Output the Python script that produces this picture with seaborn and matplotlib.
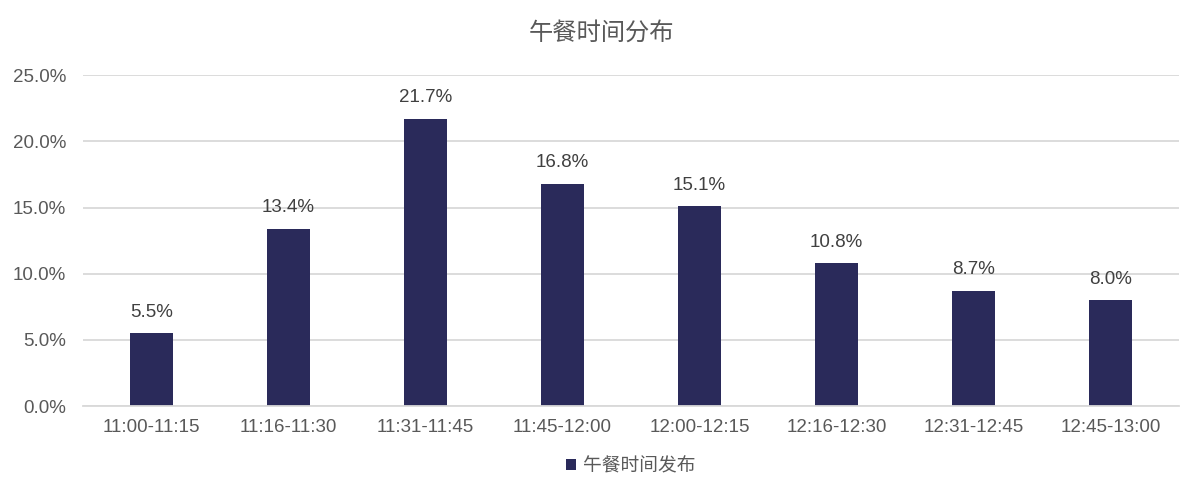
import matplotlib
matplotlib.use("Agg")
import matplotlib.pyplot as plt
import seaborn as sns
import pandas as pd
from matplotlib.ticker import PercentFormatter

time_slots = ["11:00-11:15", "11:16-11:30", "11:31-11:45", "11:45-12:00",
              "12:00-12:15", "12:16-12:30", "12:31-12:45", "12:45-13:00"]
shares = [5.5, 13.4, 21.7, 16.8, 15.1, 10.8, 8.7, 8.0]
series_name = "午餐时间发布"
title = "午餐时间分布"

df = pd.DataFrame({"slot": time_slots, "share": shares, "series": series_name})

sns.set_style("white")
plt.rcParams['font.family'] = ['Liberation Sans', 'Noto Sans CJK SC', 'DejaVu Sans']

bar_color = "#2a2a5a"
text_color = "#595959"

fig = plt.figure(figsize=(12.02, 4.98), dpi=100)
ax = fig.add_axes([0.069, 0.1847, 0.9118, 0.6643])

sns.barplot(data=df, x="slot", y="share", hue="series", palette=[bar_color],
            width=0.314, ax=ax, saturation=1, linewidth=0)

for i, v in enumerate(shares):
    ax.text(i, v + 0.95, f"{v:.1f}%", ha="center", va="bottom",
            fontsize=13.5, color="#404040")

ax.set_ylim(0, 25)
ax.set_yticks([0, 5, 10, 15, 20, 25])
ax.yaxis.set_major_formatter(PercentFormatter(decimals=1))
ax.grid(axis="y", color="#d9d9d9", linewidth=1.3)
ax.set_axisbelow(True)
for s in ["top", "right", "left"]:
    ax.spines[s].set_visible(False)
ax.spines["bottom"].set_color("#d9d9d9")
ax.spines["bottom"].set_linewidth(1.3)
ax.tick_params(axis="both", length=0, labelsize=13.5, labelcolor=text_color)
ax.tick_params(axis="y", pad=12)
ax.tick_params(axis="x", pad=9)
ax.set_xlabel("")
ax.set_ylabel("")

fig.text(0.5, 0.934, title, ha="center", va="center", fontsize=17.5,
         color=text_color, family=['Noto Sans CJK SC', 'DejaVu Sans'])

leg = ax.legend(loc="center", bbox_to_anchor=(0.5, -0.18), frameon=False,
                handlelength=0.5, handleheight=0.5, handletextpad=0.4,
                prop={"family": ['Noto Sans CJK SC'], "size": 13.5})
for t in leg.get_texts():
    t.set_color(text_color)

fig.savefig("out.png", dpi=100)
